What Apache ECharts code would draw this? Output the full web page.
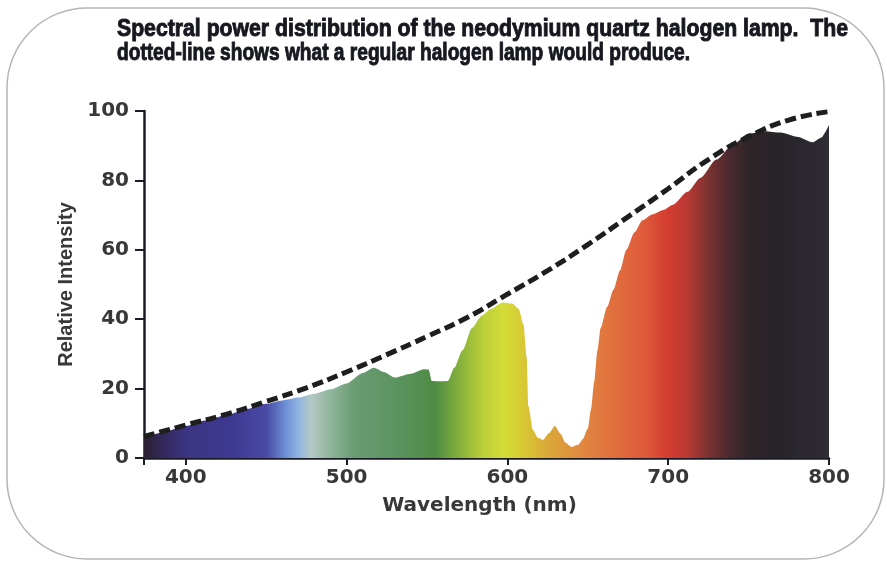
<!DOCTYPE html>
<html>
<head>
<meta charset="utf-8">
<script src="https://cdn.jsdelivr.net/npm/echarts@6/dist/echarts.min.js"></script>
<style>
html,body{margin:0;padding:0;background:#fff;}
#chart{width:887px;height:567px;}
</style>
</head>
<body>
<div id="chart"></div>
<script>
// ---- data ----
const titleLines = [
  "Spectral power distribution of the neodymium quartz halogen lamp.  The",
  "dotted-line shows what a regular halogen lamp would produce."
];
const xAxisName = "Wavelength (nm)";
const yAxisName = "Relative Intensity";
const xTickLabels = [400, 500, 600, 700, 800];

// neodymium lamp spectrum (filled area)
const ndWavelength = [374, 385, 400, 412, 425, 437, 450, 460, 470, 480, 490, 500, 510, 517, 523, 530, 540, 548, 551, 553, 558, 563, 567, 572, 578, 584, 590, 597, 603, 607, 610, 612, 613, 616, 619, 622, 626, 629.5, 633, 636, 640, 644, 647, 650, 652, 654, 656, 658, 662, 666, 670, 674, 679, 684, 690, 697, 703, 712, 720, 730, 740, 750, 760, 770, 780, 790, 795, 800];
const ndIntensity  = [5.8, 7.3, 9.2, 10.8, 12.3, 14, 15.6, 16.6, 17.4, 18.5, 19.8, 21.5, 24.5, 26, 24.8, 23.2, 24.3, 25.6, 25.5, 22.2, 22.1, 22.2, 26, 31, 37.5, 41, 43, 44.8, 44.5, 43, 38.5, 29, 15, 8, 5.8, 5.2, 7.2, 9.2, 7, 4.5, 3.2, 3.8, 5.5, 8.5, 14, 22, 31, 37.5, 43.5, 48.5, 54, 60, 65, 68.5, 70.2, 71.5, 73, 76.7, 80.7, 86, 90.2, 93.5, 94.2, 93.8, 92.6, 91, 92.3, 96];

// regular halogen lamp (dotted line)
const halWavelength = [374, 400, 425, 450, 475, 500, 525, 550, 575, 600, 625, 650, 675, 700, 725, 750, 775, 800];
const halIntensity  = [6.2, 9.5, 12.6, 16.3, 20.2, 24.8, 29.8, 35, 40.5, 47.2, 54, 61.5, 69.5, 77.6, 86, 92.6, 97.4, 99.8];

// ---- build ----
const ndData = ndWavelength.map((w, i) => [w, ndIntensity[i]]);
const halData = halWavelength.map((w, i) => [w, halIntensity[i]]);

const X_MIN = 374, X_MAX = 800;
function stop(nm, color) { return { offset: (nm - X_MIN) / (X_MAX - X_MIN), color: color }; }
const spectrum = new echarts.graphic.LinearGradient(0, 0, 1, 0, [
  stop(374, '#2a2030'), stop(385, '#33285a'), stop(400, '#3a3480'), stop(430, '#3e3a92'),
  stop(450, '#4a4aa6'), stop(462, '#6d8ed6'), stop(470, '#8fb4e0'), stop(478, '#b4c8c4'),
  stop(490, '#90b49a'), stop(505, '#6a9c72'), stop(530, '#5c9462'), stop(555, '#4e8c44'),
  stop(570, '#84b03c'), stop(585, '#bcd038'), stop(598, '#d4dc38'), stop(610, '#d8c834'),
  stop(625, '#daa838'), stop(645, '#e08a40'), stop(665, '#e0703e'), stop(685, '#de5a3a'),
  stop(700, '#d43c30'), stop(712, '#b83a34'), stop(725, '#7a3230'), stop(738, '#4a2a30'),
  stop(750, '#2e2428'), stop(770, '#28242a'), stop(800, '#302c36')
]);

const titleFont = 'bold 23px "Liberation Sans Narrow", "Liberation Sans", Arial, sans-serif';
const measureCtx = document.createElement('canvas').getContext('2d');
measureCtx.font = titleFont;
const titleTargets = [731, 573];
const titleY = [30, 54];
const titleGraphics = titleLines.map((t, i) => {
  const w = measureCtx.measureText(t).width;
  return {
    type: 'text', x: 117, y: titleY[i], scaleX: titleTargets[i] / w, z: 10,
    style: { text: t, font: titleFont, fill: '#17171f', stroke: '#17171f', lineWidth: 0.9, verticalAlign: 'middle' }
  };
});

const chart = echarts.init(document.getElementById('chart'), null, { renderer: 'canvas' });
const axisFont = '"DejaVu Sans", sans-serif';
chart.setOption({
  animation: false,
  backgroundColor: '#ffffff',
  grid: { left: 144, right: 58, top: 111, bottom: 109 },
  xAxis: {
    type: 'value', min: X_MIN, max: X_MAX,
    name: xAxisName, nameLocation: 'middle', nameGap: 38,
    nameTextStyle: { fontFamily: axisFont, fontWeight: 'bold', fontSize: 20, color: '#383838', padding: [0, 14, 0, 0] },
    axisLine: { show: true, onZero: false, lineStyle: { color: '#1c1c28', width: 2.5 } },
    axisTick: { show: true, length: 7, lineStyle: { color: '#1c1c28', width: 2 } },
    axisLabel: {
      margin: 10, fontFamily: axisFont, fontWeight: 'bold', fontSize: 20, color: '#383838',
      formatter: v => (xTickLabels.indexOf(v) >= 0 ? String(v) : '')
    },
    splitLine: { show: false }
  },
  yAxis: {
    type: 'value', min: 0, max: 100, interval: 20,
    name: yAxisName, nameLocation: 'middle', nameGap: 59,
    nameTextStyle: { fontFamily: '"Liberation Sans", Arial, sans-serif', fontWeight: 'bold', fontSize: 20, color: '#383838' },
    axisLine: { show: true, lineStyle: { color: '#1c1c28', width: 2.5 } },
    axisTick: { show: true, length: 9, lineStyle: { color: '#1c1c28', width: 2 } },
    axisLabel: { margin: 15, fontFamily: axisFont, fontWeight: 'bold', fontSize: 20, color: '#383838' },
    splitLine: { show: false }
  },
  graphic: [
    { type: 'rect', shape: { x: 7, y: 8, width: 877, height: 551, r: 80 }, z: -10,
      style: { fill: 'none', stroke: '#b5b5b5', lineWidth: 1.5 } }
  ].concat(titleGraphics),
  series: [
    {
      name: 'Neodymium', type: 'line', data: ndData, showSymbol: false,
      smooth: 0.25, smoothMonotone: 'x',
      lineStyle: { width: 0 }, areaStyle: { color: spectrum, opacity: 1 }, z: 2
    },
    {
      name: 'Halogen', type: 'line', data: halData, showSymbol: false, smooth: true,
      lineStyle: { color: '#1e1e1e', width: 5, type: [11, 5], cap: 'butt' }, z: 3
    }
  ]
});
</script>
</body>
</html>
